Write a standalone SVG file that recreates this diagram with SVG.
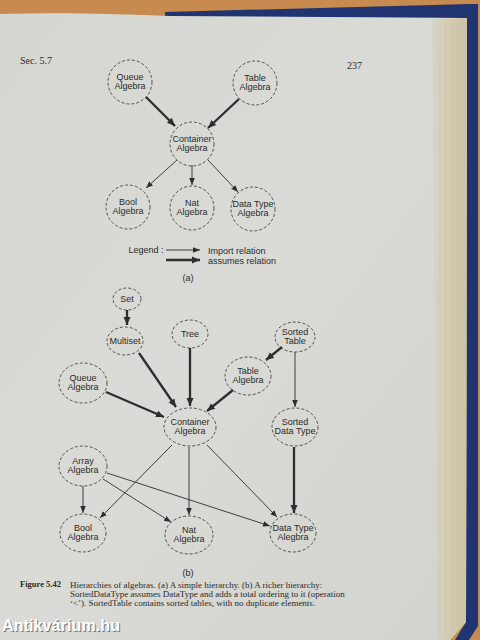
<svg xmlns="http://www.w3.org/2000/svg" width="480" height="640" viewBox="0 0 480 640">
<defs>
<style>
.n{fill:none;stroke:#2e2e2e;stroke-width:0.8;stroke-dasharray:3 2}
.t{font-family:"Liberation Sans",Arial,sans-serif;font-size:9px;fill:#2a2a2a;text-anchor:middle}
.s{font-family:"Liberation Serif","Times New Roman",serif;fill:#2a2a2a}
.thin{stroke:#2e2e2e;stroke-width:0.9;fill:none;marker-end:url(#ah)}
.thick{stroke:#2e2e2e;stroke-width:2.3;fill:none;marker-end:url(#ahb)}
</style>
<marker id="ah" markerUnits="userSpaceOnUse" markerWidth="8" markerHeight="8" viewBox="0 0 8 8" refX="7" refY="4" orient="auto">
<path d="M0,1.2 L7,4 L0,6.8 z" fill="#2e2e2e"/>
</marker>
<marker id="ahb" markerUnits="userSpaceOnUse" markerWidth="9" markerHeight="9" viewBox="0 0 9 9" refX="8" refY="4.5" orient="auto">
<path d="M0,1 L8,4.5 L0,8 z" fill="#2e2e2e"/>
</marker>
<linearGradient id="pg" x1="0" y1="0" x2="1" y2="1">
<stop offset="0" stop-color="#d6d7d1"/>
<stop offset="0.5" stop-color="#dadbd6"/>
<stop offset="1" stop-color="#d2d3cd"/>
</linearGradient>
<linearGradient id="edge" x1="0" y1="0" x2="1" y2="0">
<stop offset="0" stop-color="#d6d5cc"/>
<stop offset="0.4" stop-color="#d4ccb3"/>
<stop offset="1" stop-color="#cdc3a6"/>
</linearGradient>
</defs>

<!-- background scene -->
<rect x="0" y="0" width="480" height="640" fill="#c78a4f"/>
<path d="M165,12 L470,4 L478,4 L478,626 L469,640 L455,640 L466,622 L467,18 L165,17 z" fill="#1f3470"/>
<path d="M0,14 C60,12 120,14 170,16 L467,18 L466,622 L450,640 L0,640 z" fill="url(#pg)"/>
<path d="M432,19 L467,18 L466,622 L450,640 L437,640 z" fill="url(#edge)"/>
<g stroke="#c5bca2" stroke-width="0.5" opacity="0.7">
<line x1="440" y1="22" x2="440" y2="638"/>
<line x1="446" y1="22" x2="446" y2="636"/>
<line x1="452" y1="22" x2="452" y2="632"/>
<line x1="458" y1="22" x2="458" y2="628"/>
</g>

<!-- page header -->
<text class="s" x="20" y="64" font-size="10">Sec. 5.7</text>
<text class="s" x="347" y="69" font-size="10">237</text>

<!-- (a) connectors -->
<g id="connectors-a">
<line class="thick" x1="146" y1="97" x2="175" y2="126"/>
<line class="thick" x1="239" y1="99" x2="208" y2="128"/>
<line class="thin" x1="177" y1="160" x2="146" y2="188"/>
<line class="thin" x1="192" y1="165" x2="192" y2="185"/>
<line class="thin" x1="208" y1="160" x2="238" y2="192"/>
</g>

<!-- (a) nodes -->
<g id="a-queue"><circle class="n" cx="130" cy="82" r="22"/><text class="t" x="130" y="80">Queue</text><text class="t" x="130" y="89">Algebra</text></g>
<g id="a-table"><circle class="n" cx="255" cy="83" r="22"/><text class="t" x="255" y="81">Table</text><text class="t" x="255" y="90">Algebra</text></g>
<g id="a-container"><circle class="n" cx="192" cy="144" r="22"/><text class="t" x="192" y="142">Container</text><text class="t" x="192" y="151">Algebra</text></g>
<g id="a-bool"><circle class="n" cx="128" cy="207" r="22"/><text class="t" x="128" y="205">Bool</text><text class="t" x="128" y="214">Algebra</text></g>
<g id="a-nat"><circle class="n" cx="192" cy="208" r="22"/><text class="t" x="192" y="206">Nat</text><text class="t" x="192" y="215">Algebra</text></g>
<g id="a-datatype"><circle class="n" cx="253" cy="209" r="22"/><text class="t" x="253" y="207">Data Type</text><text class="t" x="253" y="216">Algebra</text></g>

<!-- legend -->
<g id="legend">
<text class="t" x="146" y="253">Legend :</text>
<line class="thin" x1="166" y1="250" x2="200" y2="250"/>
<line class="thick" x1="166" y1="260" x2="200" y2="260"/>
<text class="t" x="208" y="254" style="text-anchor:start">Import relation</text>
<text class="t" x="208" y="264" style="text-anchor:start">assumes relation</text>
</g>
<text class="t" x="188" y="281">(a)</text>

<!-- (b) connectors -->
<g id="connectors-b">
<line class="thick" x1="127" y1="310" x2="127" y2="325"/>
<line class="thick" x1="139" y1="353" x2="176" y2="407"/>
<line class="thick" x1="190" y1="348" x2="190" y2="406"/>
<line class="thick" x1="106" y1="392" x2="164" y2="417"/>
<line class="thick" x1="233" y1="390" x2="207" y2="411"/>
<line class="thick" x1="282" y1="347" x2="266" y2="360"/>
<line class="thin" x1="295" y1="352" x2="295" y2="407"/>
<line class="thick" x1="294" y1="447" x2="294" y2="513"/>
<line class="thin" x1="172" y1="445" x2="100" y2="518"/>
<line class="thin" x1="189" y1="447" x2="189" y2="515"/>
<line class="thin" x1="207" y1="445" x2="277" y2="517"/>
<line class="thin" x1="83" y1="486" x2="83" y2="513"/>
<line class="thin" x1="103" y1="479" x2="171" y2="522"/>
<line class="thin" x1="107" y1="473" x2="270" y2="526"/>
</g>

<!-- (b) nodes -->
<g id="b-set"><ellipse class="n" cx="127" cy="299" rx="14" ry="11"/><text class="t" x="127" y="302">Set</text></g>
<g id="b-multiset"><ellipse class="n" cx="125" cy="341" rx="18" ry="14"/><text class="t" x="125" y="344">Multiset</text></g>
<g id="b-tree"><ellipse class="n" cx="190" cy="334" rx="18" ry="14"/><text class="t" x="190" y="337">Tree</text></g>
<g id="b-sortedtable"><ellipse class="n" cx="295" cy="337" rx="20" ry="15"/><text class="t" x="295" y="335">Sorted</text><text class="t" x="295" y="344">Table</text></g>
<g id="b-table"><ellipse class="n" cx="248" cy="376" rx="23" ry="19"/><text class="t" x="248" y="374">Table</text><text class="t" x="248" y="383">Algebra</text></g>
<g id="b-queue"><ellipse class="n" cx="83" cy="383" rx="24" ry="20"/><text class="t" x="83" y="381">Queue</text><text class="t" x="83" y="390">Algebra</text></g>
<g id="b-container"><ellipse class="n" cx="190" cy="427" rx="26" ry="19"/><text class="t" x="190" y="425">Container</text><text class="t" x="190" y="434">Algebra</text></g>
<g id="b-sorteddatatype"><ellipse class="n" cx="295" cy="427" rx="23" ry="19"/><text class="t" x="295" y="425">Sorted</text><text class="t" x="295" y="434">Data Type</text></g>
<g id="b-array"><ellipse class="n" cx="83" cy="466" rx="24" ry="20"/><text class="t" x="83" y="464">Array</text><text class="t" x="83" y="473">Algebra</text></g>
<g id="b-bool"><ellipse class="n" cx="83" cy="533" rx="23" ry="19"/><text class="t" x="83" y="531">Bool</text><text class="t" x="83" y="540">Algebra</text></g>
<g id="b-nat"><ellipse class="n" cx="189" cy="535" rx="24" ry="19"/><text class="t" x="189" y="533">Nat</text><text class="t" x="189" y="542">Algebra</text></g>
<g id="b-datatype"><ellipse class="n" cx="293" cy="533" rx="23" ry="19"/><text class="t" x="293" y="531">Data Type</text><text class="t" x="293" y="540">Alegbra</text></g>
<text class="t" x="188" y="576">(b)</text>

<!-- caption -->
<text class="s" x="20" y="587" font-size="8.5" font-weight="bold">Figure 5.42</text>
<g class="s" font-size="9">
<text x="70" y="588">Hierarchies of algebras. (a) A simple hierarchy. (b) A richer hierarchy:</text>
<text x="70" y="597">SortedDataType assumes DataType and adds a total ordering to it (operation</text>
<text x="70" y="606">‘&lt;’). SortedTable contains sorted tables, with no duplicate elements.</text>
</g>

<!-- watermark -->
<text x="3" y="632" font-family="'Liberation Sans',Arial,sans-serif" font-size="16" font-weight="bold" fill="#3a3a3a" opacity="0.6" textLength="118">Antikvárium.hu</text>
<text x="2" y="631" font-family="'Liberation Sans',Arial,sans-serif" font-size="16" font-weight="bold" fill="#ffffff" textLength="118">Antikvárium.hu</text>
</svg>
